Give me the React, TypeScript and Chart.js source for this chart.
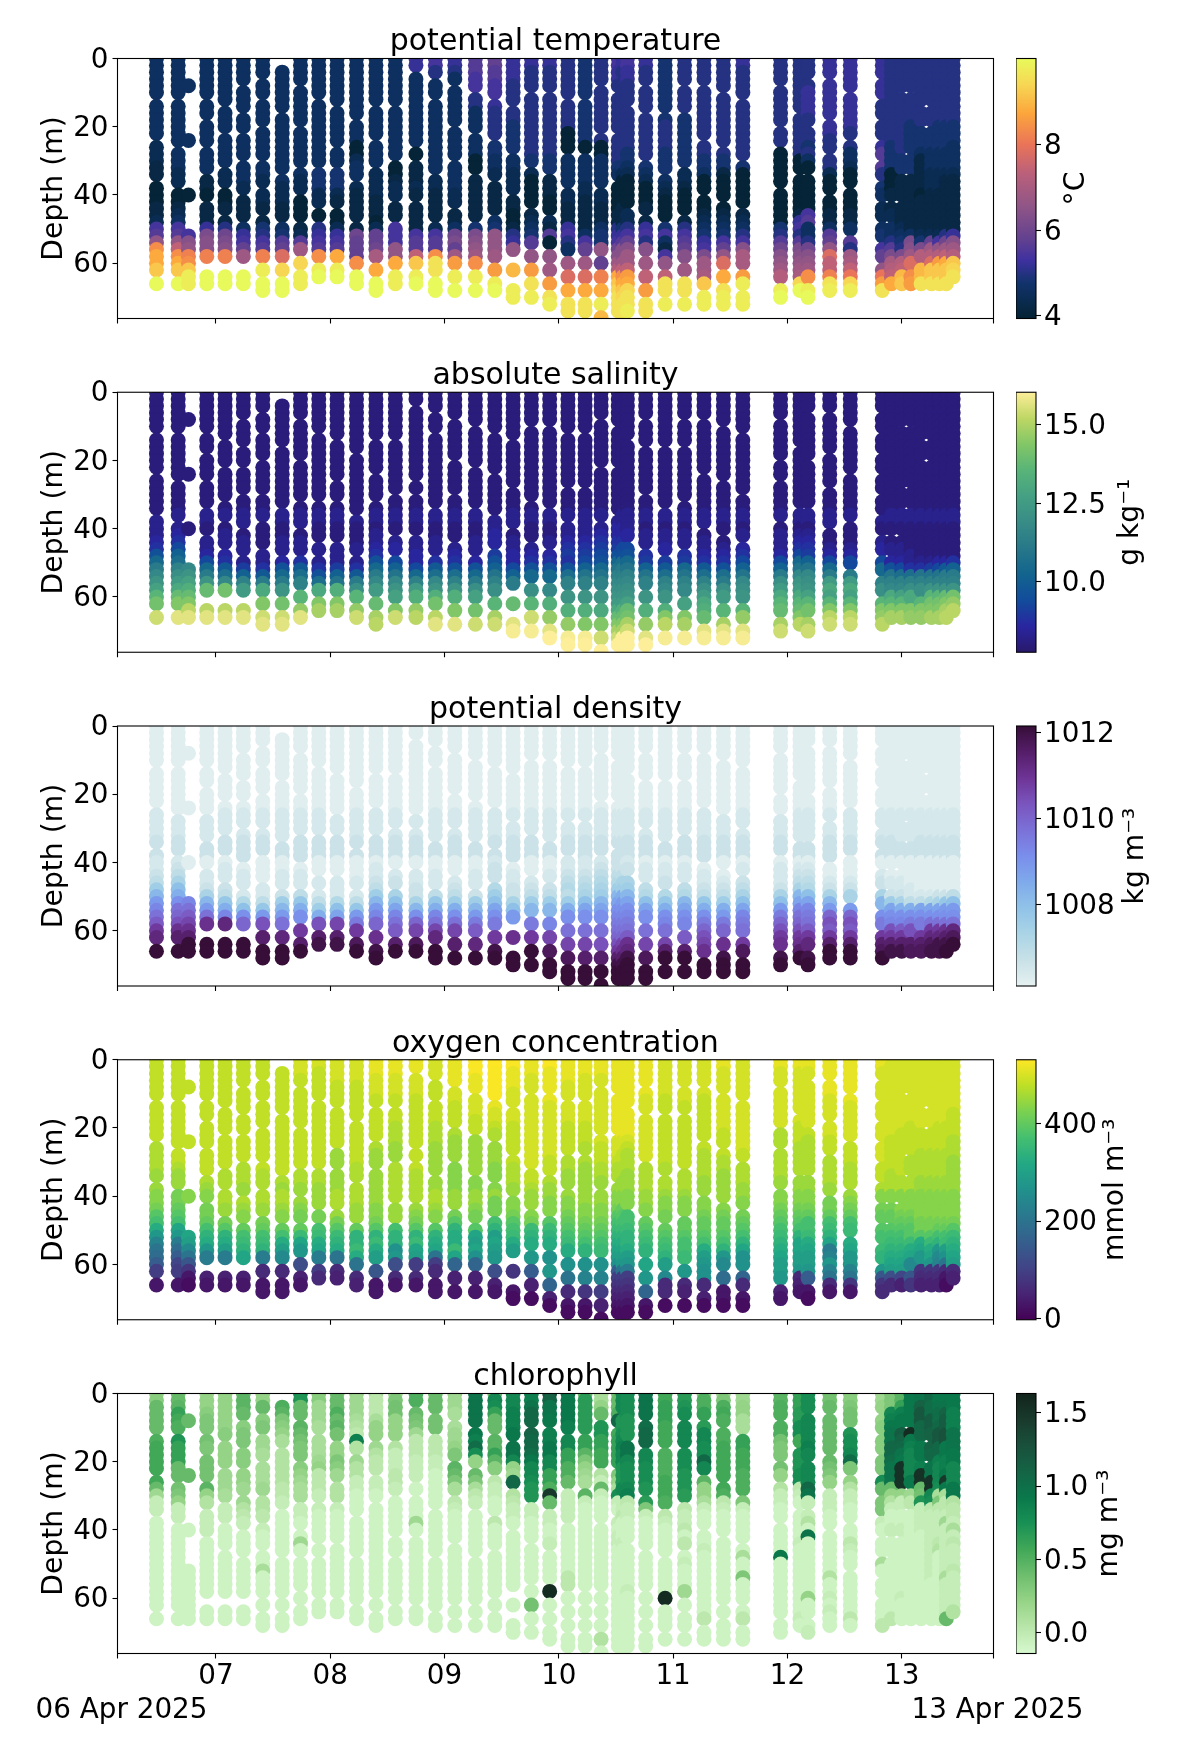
import React, { useEffect, useRef } from "react";
import Chart from "chart.js/auto";

// Cast time (day of April 2025), deepest bin (m) and depth bins without a sample
const CAST_DAY = [6.48,6.67,6.76,6.92,7.08,7.24,7.41,7.58,7.74,7.90,8.06,8.23,8.40,8.57,8.75,8.92,9.09,9.27,9.44,9.60,9.76,9.92,10.08,10.23,10.37,10.52,10.56,10.60,10.76,10.93,11.10,11.27,11.44,11.61,11.94,12.11,12.18,12.37,12.55,12.83,12.91,13.00,13.08,13.17,13.26,13.33,13.39,13.45];
const CAST_LAST = [66,66,66,66,66,66,68,68,66,64,64,66,68,66,66,68,68,68,68,70,70,72,74,74,76,74,74,74,74,72,72,72,72,72,70,68,70,68,68,68,66,66,66,66,66,66,66,64];
const CAST_GAPS = [[12,24,36,64],[12,26,38,64],[0,2,4,6,10,12,14,16,18,20,22,26,28,30,32,34,36,38,42,44,46,48,50],[12,18,26,34,42,60,62],[14,22,32,38,46,60,62],[8,16,22,30,40,48,60,62],[6,12,20,30,38,46,60,64],[0,2,16,34,48,60,64],[8,20,32,40,48,58,62],[12,32,44,48,60],[14,26,32,44,60],[18,36,48,62],[14,24,32,60,64],[14,30,42,48,62],[4,26,30,42,62],[6,12,34,48,64],[8,20,30,44,62,66],[10,22,34,48,62,66],[12,24,36,46,60,64],[14,28,40,58,60,64,66],[10,32,44,56,60,64,68],[10,34,46,56,60,64,68],[12,28,38,58,62,66,70],[12,28,58,62,66,70],[8,22,38,58,62,66,70,74],[10,22,36],[6,30],[14,44],[8,16,30,46,58,62,66,70],[16,34,48,62,70],[8,16,32,46,60,64,70],[8,24,40,68],[10,26,42,62,66],[12,30,44,62,68],[8,20,26,38,66],[16,34],[6,20,34,66],[6,18,28,40],[10,24,38,52],[6,12,18,24,30,36,42,48,54,60],[42,48],[10,28,34,42],[10,28,34,62],[14,20,60],[14,20],[],[],[]];

// One character per 2 m bin, base 36: temperature = 4 + 0.2 * code
const TEMP = [
"3333333333 3332221100 0011278dmo oqqu","3333333333 3333333221 0012378dhm oqqu","3333333333 3333333330 0000077cdl mqtt","3333333333 3333333211 001116bccl uuuu","3333333333 3333333221 001115abcl uuuu","3333333333 3333333332 211113679e uuuu",
"3333333333 3333333322 221114578l tttuu","3333333333 3333333332 221113489j rruuu","3333333333 3333333322 00000128ee rrtt","3333333333 3333333444 221005678m ttu","3333333333 3333334444 211002678o ttu","3333333333 3330023332 111101a999 mmuu",
"3333333333 3333332222 21110299af oouuu","3333333333 3333310012 21110777dd oott","7633333333 3333011112 111111788h qqtu","7753333333 3333333222 111102788m sstuu","6653333333 3333333333 221113ab9e nnttu","8887755533 3333300111 111134bcde mmttu",
"9988776655 5544433221 111234ddde enntu","6666555555 4444433222 21100156dd lpqqtt","6655555555 5555544200 000123488d dnnsst","6655555555 5555544211 100121805d eennsst","5555555555 5000333332 2211167533 eejjooss","4444444444 4440333332 211111379e eejjooss",
"5555555555 5550033333 22111344dd 99lloottp","7766555555 5555554300 000115 67ac egoqrsss","6655555555 5555554200 00111468cc ehmoqrss","7766555555 5555443200 00122579ce ehnorsst","6655555555 5555544320 0011167 5cc eehhnnss","4444444444 5555444332 1000147317 ddhsstt",
"5555555544 4444443221 000015789c deesstt","5555555555 5555544300 000123467b eefqqtt","5555555555 5555544100 000123479d jkoostt","6655555555 5555544000 00012357cf ffntttt","5555555555 5554000000 00000458ac deggtu","5555555555 5555500000 00016758bc defru",
"5555566665 5554530000 00078335ac demmtu","6666666666 6655555200 00011389dj hhlst","6666666666 6555332000 000113885e fhkrt","6666666555 5556888544 3322134779 cdkns","5555555555 5554444000 111223358b fghoq","5555555555 5555444211 111112345b ghpq",
"5555555555 4444444111 1111113bce jjmn","5555555555 4444311111 01111124bg jpps","5555555555 4444333222 11111129eg jqqs","5555555555 4444333222 11111127dg nqqs","5555555555 4444333211 1111115aeh oqqs","5555555555 4443333211 1111116ceg qrs"];

// Salinity = 8 + 0.265 * code; the upper 40 m share one profile
const SAL_UPPER = "0000000000 0000000011";
const SAL_DEEP = [
"112369cegi lnqs","123 58adfhj mort","000000egik mort","0111259cgm qqrt","0111237aen qqrt","00111148dh qqrt",
"00011137cj oorst","00111269cg nnrst","0011137adg lnpt","00011136aj moq","00011148bk moq","00011137cf lnps",
"0112369ceh kmoqr","0112358beg imos","00112259dh knpr","0011237aeg knprt","0011236adg kmort","00112269cf ilnqs",
"1223468bdf ilnqs","00112258cf jmprtu","00112369cf ilostu","00112369ce hkoprtv","1123436ade giknpruv","1123458bde giknoruv",
"1234569bde gijmopsuv","223469bdef ghjmoqsv","22356acdef ghkmoqvv","123569bdef gimnqsvv","0112348bde ghknpqtv","0112347ade gikortu",
"0112349bde gikoqtu","0011237adf hjkmptu","0001236acf hjlnqtu","0112358bef gjlpstu","0111258cfh jlmoqs","012359begh jlmor",
"012348befg ilnoqs","0001259chj ilors","0001258chj ilors","0112259bdf ilopr","0001126bde jloq","0001125ade iloq",
"0000113adf jmop","0000013bdf klop","0000014bdg lnoq","0000025bdg lnoq","0000027cdg moqr","0000038cdg npr"];

// Density = 1006 + 0.22 * code; the upper 40 m share one profile
const DEN_UPPER = "1111111111 1112222333";
const DEN_DEEP = [
"22347adfhj moqt","23469behik npsu","111111fhjl npsu","122236adhn rrsu","1222348bfo rrsu","11222259ei rrsu",
"11122248dk ppstu","1122237adh ooqtu","1122248beh mopu","11122247bk npr","11122259cl npr","11122248dg moqt",
"122347adfi lnprs","1223469cfh jnpt","1122336aei loqs","1122348bfh loqsu","1122347beh lnpsu","1122337adg jmort",
"2334579ceg jmort","11223369dg knqsuv","1122347adg jmptuv","1122347adf ilpqsuw","2234547bef hjloqsvw","2234569cef hjlopsvw",
"234567acef hjknpqtvw","33457acefg hikmprtw","33467bdefg hilnprww","23467acefg hjnorswx","1223459cef hilnqruw","1223458bef hjlpsuv",
"122345acef hjlpsuv","1122348beg iklnquv","1112347bdg iknoruv","1223469cfg hkmqtuv","1222369dgi kmnprt","12346acfhi kmnps",
"123459cfgh jmoprt","111236adik jmpst","1112369dik jmpst","122336aceg jmpqs","1112237cef kmpr","1112236bef jmpr",
"1111224beg knpq","1111124ceg lmpq","1111125ceh moqr","1111136ceh morr","1111138deh nprs","1111149deh oqs"];

// Oxygen = 15 + 15.5 * code
const OXY = [
"uuuuuuuuuu uuuttttsss rrqonkhecb 9521","uuuuuuuuuu uuuuuutsss qqponjhdb9 6521","uuuuuuuuuu uuuuuuttss rrqponjifc 8410","uuuuuuuuuu uuuuuuutts rrqqpnlkhd 6421","uuuuuuuuuu uuuuuuutts ttsrqolkid 6421","uuuuuuuuuu uuuuuuttts ttsrqpnmlj 6421",
"uuuuuuuuuu uuuuuuuttt ttsrqpnmld 43211","uuuuuuuuuu uuuuuuutts ttsrqpnkif 53211","vvvuuuuuuu uuuuuuutts tsrqqpmjhd 7321","vvuuuuuuuu uuuuuuttts ssrqpnmkjd 653","vvvvuuuuuu uuutssssss ttssqomlkc 532","vvvvuuuuuu uuuuuutttt ttssrpllmk c532",
"wwwvvvuuuu uuttssssss ssrrqolmki d8411","wwwvvvuuuu tttssstttt ttssqnllgh 7531","wwvvvvuuuu uuuuuuuttt ttsrqolmji 5431","vvvvuuuuuu tttsssssss ttsrqolkjc 53211","wwwwvvvuuu utsssrrrrr ssrqolkkmj a5211","xxxwwwvvvu utsssssrrr ssrqpojijg a5211",
"yyxxxxwwvv uttsssrrrr sqqpnlijih c7321","xxwwwvvvvv uuuuuuttts srrqonmkih a43210","wwwvvvvvvv vvvvvvvuut sssrqmlkih d95210","xxwwwwwvvv vvvvvuutts srrqomlkig hhda520","wwwwvvvvvv uuuuuttsss srrqponmkh gfc73210","wwwvvvvvvv uuutttssss ssrrqponlk gfe84210",
"wwwvvvvvvv vvvuuuttss ssrrqponml gfe953210","wwwwwwwwww wwvvvuttss rrqonmlkji g9543210","wwwwwwwwww wwvvutttss rrponmlkji hc543210","wwwwwwwwww wwvutttsss rrqnnmllki hd543210","wwwwwwvvvv vvvvvutttt ssrqponmlk jihda410","vvvvvvuuuu uuuuuutttt srrqpponml ihf3320",
"vvvvvvvuuu uuuuuuuttt srrqpponnm kha3210","vvvvvvuuuu uuuuttttss srrqpponki hgg3320","wwvvvvvvvv vuuuuttsss srrqpponlh fdb5110","vvvvvvvvvv vvvvuuttts srrqponljg gca3210","wwvvvvvvvv uttsttttss rrqponmlkj iih821","wwvvvvvvvv uuutttttss rrqponljji ih321",
"wwvvvvvvvv uutttttsss rrqpnnmkji ih9210","wwwwwwvvvv vvuuutttts sqqpnmljde hec31","wwwwwwwvvv vvuuuuttts srqpnmlkjh hec41","wwvvvvvvvv vvvvvvuuut rrqpoonnml ih843","wvvvvvvvvv vvuuuuuttt rrqpoonmlk ji73","vvvvvvvvvv vuuuuuuttt rrrqponmlk ji62",
"vvvvvvvvvv uuuuuttttt rrrqpoomkj fc84","vvvvvvvvvv uuuuttttss rrrrqqokjh h432","vvvvvvvvvv uuuuttttss rrrrqqomkj h432","vvvvvvvvvv uuuuttttss rrrrqpnlhf e432","vvvvvvvvvv uuuuttttss rrrrqpnmig c310","vvvvvvvvuu uutttsssss rrrrqomlkj i32"];

// Chlorophyll = -0.18 + 0.05 * code
const CHL = [
"89cccceeff ffffc73322 2222222222 2222","bcdgfeiigg gccbba8332 2222222222 2222","cccccccccc ccc2222222 2222222222 2222","7889aabbaa bbbdd85533 3222222222 2222","8888889a88 8777766333 2222222222 2222","cddcc9aa99 9988777543 3222222222 2222",
"88cb9a7776 6666765543 3222226222 22222","eeeda98665 5555443322 2222222222 22222","jicccdcbaa a987664332 2272222223 2222","9977766666 7844433322 2222222222 222","bccecdba88 a977553322 2222222222 222","8777654l55 7553322222 2222222222 2222",
"6444688775 4433322222 2222222222 22222","7abb888c53 3344322222 2222222222 2222","eedcba7444 3333222227 2222222222 2222","bccbbb8444 3322222222 2222222222 22222","877666778a edca644322 2222222222 22222","nnnnnnmloj 8eca643222 2222222222 22222",
"ckjgcceddg d964332244 222i222222 22222","kkklllmmnn k87pd54332 2222222222 222222","llnppqqppo mkkjii3332 2222222222 2b22222","tqnnmmllmm kkggexc333 223222222z 3222222","ommmmllkkg geec433336 2222222442 22222222","chhhhhgggd a8766d3222 2222222222 22222222",
"668cdiiggf f853c32222 2222222222 222222522","accepffggg gpa86j3223 2332222222 22222222","kkkjiijklk kiiik53342 2232222222 22222222","jjjjiiijnn kjjjkl4332 2222222223 22222222","nnnnoopplk kjjjihha32 2222222222 22222222","ffgggfffee eeefffe843 2222222222 z2222222",
"hhijjkkkjj jjiiih8433 4244232227 3222222","9eegghkkjj pkdd886322 2223222222 2224222","7aefeeeeff fffffe4322 2222222222 2222222","7788666ggf ffeeeea322 2222622a22 2224422","ddeeeeebaa cb86533222 2222m22222 222222","ggghhjjffi iijj432322 2232222222 22232",
"jjjjkkkklk kkkkpn3335 2n22222222 822223","bbcccccccc cba8533322 6222222522 32322","99abbiijjk oaa8533222 2243222222 22242","7788899999 aaajccaa33 2222262222 22224","aaaklmnnpp onnnc85322 3222222222 2224","ddglmnrqpn myyyc83322 3222222222 3222",
"mmmmmmzmlk kkkm874322 2222222222 2222","nnqsspppmm llyycbi333 3222222222 2222","ppoorrqqqp onnyykj433 3333333322 2222","mmnoopsspp lkkkj6a433 3345222222 2222","mmnqrrttmm llmxm64437 3333333633 333c","mmmlllnnnm mkkkmm5443 6343334333 335"];

const DEPTH_TICKS = [0, 20, 40, 60];
const DAY_TICKS = [7, 8, 9, 10, 11, 12, 13];
const X_MIN = 6.139, X_MAX = 13.803, DEPTH_MAX = 76.2;

type RGB = number[];
const THERMAL: RGB[] = [[4,35,51],[17,51,107],[63,49,160],[96,64,144],[143,85,135],[187,96,122],[234,116,88],[252,166,60],[247,215,84],[232,250,91]];
const THERMAL_POS = [0,0.135,0.225,0.30,0.43,0.56,0.67,0.79,0.90,1];
const HALINE: RGB[] = [[41,24,107],[41,38,160],[18,76,155],[18,100,142],[39,120,137],[56,140,134],[68,160,131],[88,180,120],[130,198,103],[190,215,100],[253,238,153]];
const DENSE: RGB[] = [[230,241,241],[200,225,231],[170,212,230],[145,195,232],[127,170,235],[122,142,235],[123,113,215],[122,85,190],[110,52,150],[85,30,105],[54,14,56]];
const VIRIDIS: RGB[] = [[68,1,84],[72,36,117],[65,68,135],[53,95,141],[42,120,142],[33,145,140],[34,168,132],[68,191,112],[122,209,81],[189,223,38],[253,231,37]];
const ALGAE: RGB[] = [[215,249,208],[185,230,170],[150,212,135],[110,190,110],[65,168,88],[25,145,85],[10,120,75],[20,100,70],[25,80,60],[25,58,45],[18,36,28]];
const EVEN = [0,0.1,0.2,0.3,0.4,0.5,0.6,0.7,0.8,0.9,1];

const colorAt = (map: RGB[], pos: number[], f: number) => {
  const t = Math.max(0, Math.min(1, f));
  let i = 0;
  while (i < pos.length - 2 && t > pos[i + 1]) i++;
  const k = (t - pos[i]) / (pos[i + 1] - pos[i]);
  const c = map[i].map((v, j) => Math.round(v + (map[i + 1][j] - v) * k));
  return `rgb(${c[0]},${c[1]},${c[2]})`;
};

const code = (s: string, depth: number) => {
  const t = s.replace(/ /g, "");
  return parseInt(t[Math.min(depth / 2, t.length - 1)], 36);
};

const PANELS = [
  { title: "potential temperature", unit: "°C", map: THERMAL, pos: THERMAL_POS, min: 3.94, max: 10.02, ticks: [4, 6, 8], dec: 0, unitX: 1077, rows: TEMP, base: 4, step: 0.2 },
  { title: "absolute salinity", unit: "g kg⁻¹", map: HALINE, pos: EVEN, min: 7.75, max: 16.04, ticks: [10, 12.5, 15], dec: 1, unitX: 1131, rows: SAL_DEEP.map((s) => SAL_UPPER + s), base: 8, step: 0.265 },
  { title: "potential density", unit: "kg m⁻³", map: DENSE, pos: EVEN, min: 1006.1, max: 1012.15, ticks: [1008, 1010, 1012], dec: 0, unitX: 1136, rows: DEN_DEEP.map((s) => DEN_UPPER + s), base: 1006, step: 0.22 },
  { title: "oxygen concentration", unit: "mmol m⁻³", map: VIRIDIS, pos: EVEN, min: -2, max: 530, ticks: [0, 200, 400], dec: 0, unitX: 1116, rows: OXY, base: 15, step: 15.5 },
  { title: "chlorophyll", unit: "mg m⁻³", map: ALGAE, pos: EVEN, min: -0.14, max: 1.63, ticks: [0, 0.5, 1, 1.5], dec: 1, unitX: 1110, rows: CHL, base: -0.18, step: 0.05 },
];

const FONT = { family: "'DejaVu Sans'", size: 27.8 };
const TITLE_FONT = { family: "'DejaVu Sans'", size: 30, weight: "normal" };
const LABEL_FONT = { family: "'DejaVu Sans'", size: 28.2 };
const PLOT_L = 117.5, PLOT_R = 993.5, PLOT_H = 260, SPACING = 333.75, FIRST_TOP = 58.5;
const CB_L = 1016, CB_W = 20, CB_CANVAS_W = 184, LABEL_LEFT = 37.8;

const frame = {
  id: "frame",
  afterDatasetsDraw(chart: any) {
    const { ctx, chartArea: a } = chart;
    ctx.save();
    ctx.strokeStyle = "#000";
    ctx.lineWidth = 1.1;
    ctx.strokeRect(a.left, a.top, a.right - a.left, a.bottom - a.top);
    ctx.restore();
  },
};

const blackTicks = { drawOnChartArea: false, drawTicks: true, tickLength: 5, tickColor: "#000", tickWidth: 1.1 };

function makePlot(canvas: HTMLCanvasElement, p: any, index: number, h: number, top: number) {
  const last = index === PANELS.length - 1;
  const xH = last ? 90 : 12;
  const data: { x: number; y: number }[] = [];
  const colors: string[] = [];
  CAST_DAY.forEach((day, c) => {
    for (let d = 0; d <= CAST_LAST[c]; d += 2) {
      if (CAST_GAPS[c].includes(d)) continue;
      data.push({ x: day, y: d });
      const v = p.base + p.step * code(p.rows[c], d);
      colors.push(colorAt(p.map, p.pos, (v - p.min) / (p.max - p.min)));
    }
  });
  const plotTop = FIRST_TOP + index * SPACING - top;
  const plotBottom = plotTop + PLOT_H;
  const edgeLabels: Record<string, string[]> = { "6.174": ["", "06 Apr 2025"], "13.838": ["", "13 Apr 2025"] };
  return new Chart(canvas, {
    type: "scatter",
    data: { datasets: [{ data, pointBackgroundColor: colors, pointBorderWidth: 0, pointRadius: 7.5, pointHoverRadius: 7.5, clip: 0 } as any] },
    plugins: [frame],
    options: {
      animation: false,
      responsive: false,
      devicePixelRatio: 1,
      events: [],
      layout: { autoPadding: false, padding: { left: LABEL_LEFT, right: 1200 - PLOT_R, top: plotTop - 36, bottom: h - plotBottom - xH } },
      plugins: {
        legend: { display: false },
        tooltip: { enabled: false },
        title: { display: true, text: p.title, color: "#000", font: TITLE_FONT, padding: { top: 2, bottom: -2 }, fullSize: false },
      },
      scales: {
        x: {
          type: "linear",
          min: X_MIN,
          max: X_MAX,
          border: { display: false },
          grid: { ...blackTicks, tickColor: (c: any) => (c.tick && String(c.tick.value) in edgeLabels ? "rgba(0,0,0,0)" : "#000") },
          afterFit: (s: any) => { s.height = xH; },
          afterBuildTicks: (s: any) => {
            const vals = [X_MIN, ...DAY_TICKS, X_MAX];
            if (last) vals.push(6.174, 13.838);
            s.ticks = vals.map((value) => ({ value }));
          },
          ticks: {
            autoSkip: false, maxRotation: 0, minRotation: 0, padding: 2, color: "#000", font: FONT,
            callback: (v: any) => {
              if (!last) return "";
              if (String(v) in edgeLabels) return edgeLabels[String(v)];
              return DAY_TICKS.includes(v) ? (v < 10 ? "0" + v : String(v)) : "";
            },
          },
        },
        y: {
          type: "linear",
          reverse: true,
          min: 0,
          max: DEPTH_MAX,
          border: { display: false },
          grid: blackTicks,
          afterFit: (s: any) => { s.width = PLOT_L - LABEL_LEFT; },
          afterBuildTicks: (s: any) => { s.ticks = DEPTH_TICKS.map((value) => ({ value })); },
          ticks: { padding: 4, labelOffset: 2, color: "#000", font: FONT, callback: (v: any) => String(v) },
          title: { display: true, text: "Depth (m)", color: "#000", font: LABEL_FONT, padding: 0 },
        },
      },
    } as any,
  });
}

function makeBar(canvas: HTMLCanvasElement, p: any, h: number, top: number, index: number) {
  const w = 150;
  const plotTop = FIRST_TOP + index * SPACING - top;
  const unitLabel = {
    id: "unitLabel",
    afterDraw(chart: any) {
      const { ctx, chartArea: a } = chart;
      ctx.save();
      ctx.translate(p.unitX - CB_L, (a.top + a.bottom) / 2);
      ctx.rotate(-Math.PI / 2);
      ctx.font = "28.2px 'DejaVu Sans'";
      ctx.fillStyle = "#000";
      ctx.textAlign = "center";
      ctx.textBaseline = "middle";
      ctx.fillText(p.unit, 0, 0);
      ctx.restore();
    },
  };
  return new Chart(canvas, {
    type: "bar",
    data: {
      labels: [p.unit],
      datasets: [{
        data: [[p.min, p.max]],
        barPercentage: 1,
        categoryPercentage: 1,
        backgroundColor: (c: any) => {
          const a = c.chart.chartArea;
          if (!a) return "#000";
          const g = c.chart.ctx.createLinearGradient(0, a.bottom, 0, a.top);
          p.map.forEach((_: any, i: number) => g.addColorStop(p.pos[i], colorAt(p.map, p.pos, p.pos[i])));
          return g;
        },
      } as any],
    },
    plugins: [frame, unitLabel],
    options: {
      animation: false,
      responsive: false,
      devicePixelRatio: 1,
      events: [],
      layout: { autoPadding: false, padding: { left: 0, right: CB_CANVAS_W - CB_W - w, top: plotTop, bottom: h - plotTop - PLOT_H } },
      plugins: { legend: { display: false }, tooltip: { enabled: false } },
      scales: {
        x: { display: false },
        y: {
          position: "right",
          min: p.min,
          max: p.max,
          border: { display: false },
          grid: blackTicks,
          afterFit: (s: any) => { s.width = w; },
          afterBuildTicks: (s: any) => { s.ticks = p.ticks.map((value: number) => ({ value })); },
          ticks: { padding: 3, labelOffset: 2, color: "#000", font: FONT, callback: (v: any) => Number(v).toFixed(p.dec) },
        },
      },
    } as any,
  });
}

export default function App() {
  const plots = useRef<(HTMLCanvasElement | null)[]>([]);
  const bars = useRef<(HTMLCanvasElement | null)[]>([]);
  useEffect(() => {
    const charts: Chart[] = [];
    PANELS.forEach((p, i) => {
      const top = Math.round(i * SPACING);
      const h = i === PANELS.length - 1 ? 1750 - top : 345;
      charts.push(makePlot(plots.current[i]!, p, i, h, top));
      charts.push(makeBar(bars.current[i]!, p, h, top, i));
    });
    return () => charts.forEach((c) => c.destroy());
  }, []);
  return (
    <div style={{ position: "absolute", left: 0, top: 0, width: 1200, height: 1750, background: "#fff" }}>
      {PANELS.map((p, i) => {
        const top = Math.round(i * SPACING);
        const h = i === PANELS.length - 1 ? 1750 - top : 345;
        return (
          <React.Fragment key={p.title}>
            <canvas ref={(el) => { plots.current[i] = el; }} width={1200} height={h} style={{ position: "absolute", left: 0, top }} />
            <canvas ref={(el) => { bars.current[i] = el; }} width={CB_CANVAS_W} height={h} style={{ position: "absolute", left: CB_L, top }} />
          </React.Fragment>
        );
      })}
    </div>
  );
}
